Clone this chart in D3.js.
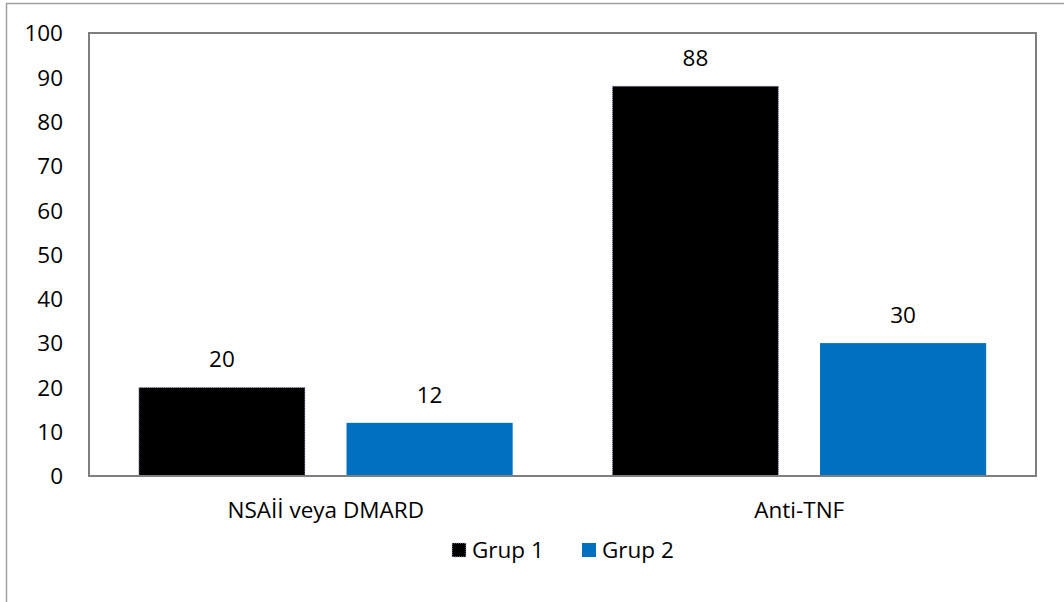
<!DOCTYPE html>
<html><head><meta charset="utf-8">
<script src="https://cdn.jsdelivr.net/npm/d3@7"></script>
<style>body{margin:0;background:#fff;} svg{display:block;} text{font-family:"Open Sans",sans-serif;fill:#000;}</style>
</head><body>
<svg id="c" width="1064" height="602"></svg>
<script>
const categories = ["NSAİİ veya DMARD", "Anti-TNF"];
const seriesNames = ["Grup 1", "Grup 2"];
const grup1 = [20, 88];
const grup2 = [12, 30];
const yTicks = [0, 10, 20, 30, 40, 50, 60, 70, 80, 90, 100];
const colors = ["#000000", "#0070C0"];

const FS = 22.5;
const svg = d3.select("#c");
const L = 89, R = 1036, T = 33, B = 476;

// outer frame
svg.append("rect").attr("x", 6.5).attr("y", 3.5).attr("width", 1200).attr("height", 800)
  .attr("fill", "none").attr("stroke", "#a0a0a0").attr("stroke-width", 1.5);

const x0 = d3.scaleBand().domain(categories).range([L, R]).paddingInner(0).paddingOuter(0);
const x1 = d3.scaleBand().domain(seriesNames).range([0, x0.bandwidth()]).paddingInner(0.2).paddingOuter(0.24);
const y = d3.scaleLinear().domain([0, 100]).range([B, T]);

// y tick labels
const yAxis = d3.axisLeft(y).tickValues(yTicks).tickSize(0).tickPadding(26);
const gy = svg.append("g").attr("transform", `translate(${L},0)`).call(yAxis);
gy.select(".domain").remove();
gy.selectAll("text").attr("font-size", FS).attr("font-family", "'Open Sans',sans-serif").attr("fill", "#000").attr("dy", "0.35em");

// x labels
const xAxis = d3.axisBottom(x0).tickSize(0).tickPadding(26);
const gx = svg.append("g").attr("transform", `translate(0,${B})`).call(xAxis);
gx.select(".domain").remove();
gx.selectAll("text").attr("font-size", FS).attr("font-family", "'Open Sans',sans-serif").attr("fill", "#000");

const data = seriesNames.map((s, i) => ({ name: s, values: i === 0 ? grup1 : grup2, color: colors[i] }));

data.forEach((s, si) => {
  const g = svg.append("g");
  g.selectAll("rect").data(s.values).join("rect")
    .attr("x", (d, i) => x0(categories[i]) + x1(s.name))
    .attr("y", d => y(d))
    .attr("width", x1.bandwidth())
    .attr("height", d => y(0) - y(d))
    .attr("fill", s.color)
    .attr("stroke", si === 0 ? "#b8bfe0" : "none")
    .attr("stroke-dasharray", si === 0 ? "1,1" : null)
    .attr("stroke-width", 1);
  g.selectAll("text").data(s.values).join("text")
    .attr("x", (d, i) => x0(categories[i]) + x1(s.name) + x1.bandwidth() / 2)
    .attr("y", d => y(d) - 20)
    .attr("text-anchor", "middle")
    .attr("font-size", FS)
    .text(d => d);
});

// plot border
svg.append("rect").attr("x", L).attr("y", T).attr("width", R - L).attr("height", B - T)
  .attr("fill", "none").attr("stroke", "#7f7f7f").attr("stroke-width", 2);

// legend
const legend = svg.append("g");
const legendItems = [{ x: 452, tx: 472 }, { x: 582, tx: 602 }];
data.forEach((s, i) => {
  legend.append("rect").attr("x", legendItems[i].x).attr("y", 543).attr("width", 14).attr("height", 14)
    .attr("fill", s.color)
    .attr("stroke", i === 0 ? "#b8bfe0" : "none").attr("stroke-dasharray", i === 0 ? "1,1" : null);
  legend.append("text").attr("x", legendItems[i].tx).attr("y", 550).attr("dy", "0.35em")
    .attr("font-size", FS).text(s.name);
});
</script>
</body></html>
